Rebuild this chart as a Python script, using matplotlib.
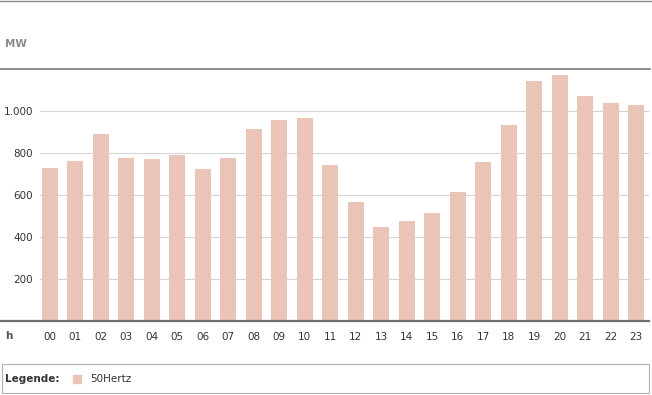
import matplotlib.pyplot as plt
from matplotlib.lines import Line2D
from matplotlib.patches import Rectangle

# hourly values (MW)
hours = ['00', '01', '02', '03', '04', '05', '06', '07', '08', '09', '10', '11',
         '12', '13', '14', '15', '16', '17', '18', '19', '20', '21', '22', '23']
values = [730, 763, 892, 778, 773, 792, 725, 778, 916, 959, 968, 744,
          568, 450, 478, 512, 616, 759, 935, 1141, 1173, 1070, 1036, 1027]
yticks = [200, 400, 600, 800, 1000]
ytick_labels = ['200', '400', '600', '800', '1.000']

bar_color = '#eac4b7'
W, H = 652, 395

fig = plt.figure(figsize=(W / 100, H / 100), dpi=100)
ax = fig.add_axes([40 / W, 74 / H, 609 / W, 252 / H])

x = list(range(len(hours)))
ax.bar(x, values, width=0.63, color=bar_color, zorder=2)
ax.set_xlim(-0.39, 23.5)
ax.set_ylim(0, 1200)

ax.set_yticks(yticks)
ax.set_yticklabels(ytick_labels)
ax.set_xticks(x)
ax.set_xticklabels(hours)
ax.tick_params(axis='both', length=0, labelsize=7.5, colors='#333333')
ax.tick_params(axis='y', pad=5)
ax.tick_params(axis='x', pad=8)
ax.grid(axis='y', color='#d4d4d4', linewidth=0.8, zorder=0)
for s in ax.spines.values():
    s.set_visible(False)

# frame lines across the figure
def hline(ypx, x0, x1, color, lw):
    fig.add_artist(Line2D([x0 / W, x1 / W], [1 - ypx / H, 1 - ypx / H],
                          color=color, linewidth=lw))

hline(0.5, 0, W, '#8a8a8a', 1.0)
hline(69, 0, 650, '#7a7a7a', 1.2)
hline(321, 0, 649, '#6e6e6e', 1.6)

fig.text(5 / W, 1 - 44 / H, 'MW', fontsize=7.5, fontweight='bold',
         color='#8a8a8a', va='center')
fig.text(5 / W, 1 - 336 / H, 'h', fontsize=7.5, fontweight='bold',
         color='#555555', va='center')

# legend box
fig.add_artist(Rectangle((2 / W, 1 - 393 / H), 647 / W, 29 / H,
                         transform=fig.transFigure, fill=False,
                         edgecolor='#b0b0b0', linewidth=0.8))
fig.text(5 / W, 1 - 379 / H, 'Legende:', fontsize=7.5, fontweight='bold',
         color='#333333', va='center')
fig.add_artist(Rectangle((73 / W, 1 - 383 / H), 8 / W, 8 / H,
                         transform=fig.transFigure, color=bar_color))
fig.text(90 / W, 1 - 379 / H, '50Hertz', fontsize=7.5,
         color='#333333', va='center')

fig.savefig('out.png', dpi=100)
